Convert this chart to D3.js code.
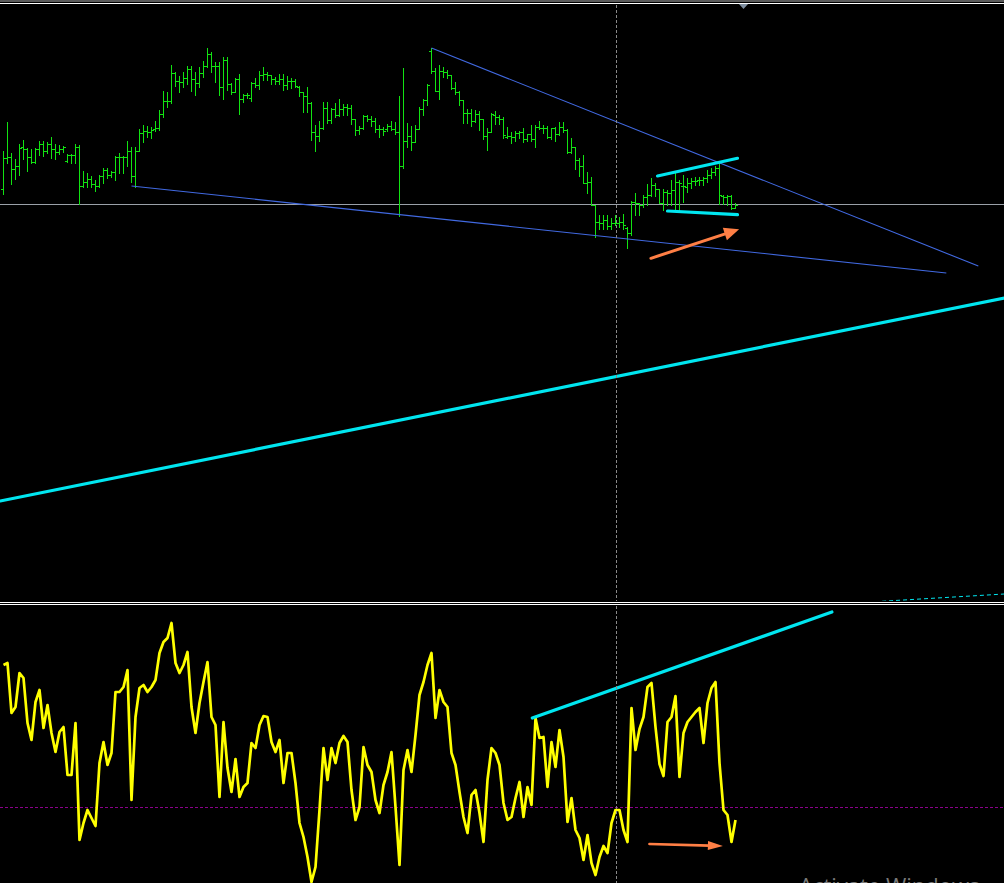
<!DOCTYPE html>
<html><head><meta charset="utf-8">
<script src="https://cdn.jsdelivr.net/npm/d3@7"></script>
<style>html,body{margin:0;padding:0;background:#000;overflow:hidden}svg{display:block}</style>
</head><body><svg id="c" width="1004" height="883"></svg>
<script>
// ---- price bars (points) ----
const opens = [111,142,143,131,134,153,151,143,138,151,156,149,156,151,148,151,139,145,145,153,
114,118,121,116,114,124,130,125,128,143,143,143,149,124,149,167,169,168,171,172,
186,199,199,227,219,218,222,231,221,217,227,234,246,234,234,213,240,216,208,221,
201,205,202,217,215,225,226,225,221,219,221,215,219,219,213,208,204,197,168,164,
172,192,180,191,185,191,193,192,181,170,172,184,181,179,171,171,171,174,171,168,
134,159,164,158,171,191,200,249,229,209,229,228,225,212,208,200,187,187,179,186,
181,164,168,185,183,181,163,164,163,167,168,161,166,161,173,172,172,163,172,166,
173,170,148,153,140,134,117,118,95,78,77,80,74,77,77,78,72,67,98,97,
95,103,105,115,111,97,108,107,110,118,114,113,117,119,120,120,122,125,128,132,
104,103,104,92];
const highs = [149,178,147,141,156,160,152,151,152,159,159,158,163,156,155,154,146,146,156,155,
129,127,124,120,125,132,132,129,144,147,144,159,153,153,171,175,174,173,179,190,
209,208,235,228,224,228,234,234,228,233,239,252,248,238,238,243,243,217,222,226,
206,207,218,222,229,233,228,225,223,226,226,224,222,221,214,208,213,198,175,179,
198,198,192,197,201,196,196,195,181,174,185,185,184,182,175,173,176,179,178,204,
232,177,174,175,193,201,216,252,232,235,233,230,225,218,209,200,191,191,190,189,
181,172,187,189,185,183,173,168,169,169,172,166,175,175,179,175,174,172,173,178,
178,171,162,153,142,145,128,123,95,85,85,85,82,85,83,86,73,99,107,97,
105,116,122,117,111,111,110,120,127,120,125,122,122,123,123,123,130,132,134,138,
105,105,105,97];
const lows = [106,137,116,121,125,141,129,137,137,145,144,147,142,141,146,148,138,137,137,96,
113,113,113,109,113,117,122,123,120,127,127,134,118,113,149,158,163,162,169,170,
183,193,197,214,208,213,216,209,205,213,223,233,228,218,205,201,210,206,208,186,
198,202,199,213,211,220,220,216,216,216,210,211,212,213,204,188,188,160,149,159,
171,177,177,183,184,185,185,176,165,166,171,179,174,168,163,165,169,170,166,84,
132,153,150,158,171,185,195,227,209,201,223,222,211,206,195,177,177,174,178,170,
161,150,168,176,176,162,162,157,159,162,158,159,159,153,171,167,162,161,159,165,
168,147,147,131,124,117,107,95,63,71,71,71,71,75,73,71,52,65,85,85,
93,95,104,104,97,90,95,95,90,90,98,108,112,115,115,115,118,122,125,96,
96,95,91,92];
const closes = [142,143,131,134,152,151,143,138,151,156,149,156,151,148,151,153,145,145,153,114,
118,121,116,114,124,130,125,128,143,143,143,149,124,149,167,169,168,170,172,186,
199,199,227,219,218,222,231,221,217,227,234,246,234,234,213,240,216,208,221,201,
205,205,217,215,225,226,225,221,219,221,215,219,219,214,208,204,197,168,164,172,
192,180,191,185,191,193,192,181,170,172,184,181,179,171,171,169,174,171,168,134,
159,164,158,171,191,200,215,229,209,229,228,225,212,208,200,187,187,179,186,181,
164,168,186,183,181,165,164,163,167,168,161,166,161,173,172,172,163,172,166,173,
170,148,153,140,134,117,118,95,78,77,80,74,77,77,78,75,67,98,97,95,
103,105,115,111,97,108,107,110,118,117,114,117,119,119,120,122,125,128,132,105,
103,104,92,95];

// ---- oscillator ----
const osc = [142,144,94,100,134,129,84,67,105,117,79,102,74,55,75,80,32,32,84,-33,
-16,-3,-11,-19,44,65,42,54,115,115,120,137,7,90,119,122,115,120,127,154,
165,169,184,144,134,142,155,100,74,104,125,145,90,82,10,85,39,15,48,10,
20,24,64,59,82,91,90,65,55,67,24,54,54,24,-16,-30,-50,-75,-60,-3,
59,27,59,44,64,71,65,17,-13,0,60,42,35,7,-6,22,35,55,0,-58,
37,57,35,72,112,125,142,154,89,117,105,100,54,42,15,-10,-26,12,17,-6,
-35,27,59,54,42,4,-13,-10,9,25,-10,20,2,89,69,70,20,65,40,77,
50,-15,9,-23,-31,-53,-28,-56,-68,-50,-39,-46,-16,-3,-3,-23,-35,99,57,78,
90,120,124,80,43,31,85,90,111,30,74,85,90,95,99,64,104,119,125,44,
-3,-8,-35,-13];

// ---- annotations: [barIndex, value] ----
const priceLevel = 96;
const cursorBar = 153;
const oscLevel = 0;
const blueLines = [[[107,252],[243.7,34]], [[32,114],[235.7,27]]];
const cyanLines = [[[-0.825,-201],[250.2,2]], [[163.5,124],[183.5,141.7]], [[166,89],[183.5,85.3]]];
const cyanDashed = [[217.9,-301.7],[250.2,-294]];
const priceArrow = [[161.85,41.7],[183.9,70.7]];
const oscCyanLine = [[132.2,89],[207.1,195]];
const oscArrow = [[161.5,-37],[179.85,-39]];
const watermark = "Activate Windows";

const W = 1004, H = 883;
const svg = d3.select("#c");
svg.append("rect").attr("width",W).attr("height",H).attr("fill","#000");

const x = d3.scaleLinear().domain([0,183]).range([3.5,735.5]);
const yP = d3.scaleLinear().domain([-301,296]).range([601,4]);
const yO = d3.scaleLinear().domain([-76,202]).range([883,605]);

const defs = svg.append("defs");
defs.append("clipPath").attr("id","cp1").append("rect").attr("x",0).attr("y",4).attr("width",W).attr("height",597);
defs.append("clipPath").attr("id","cp2").append("rect").attr("x",0).attr("y",605).attr("width",W).attr("height",278);

// top frame
svg.append("rect").attr("x",0).attr("y",0).attr("width",W).attr("height",2).attr("fill","#5a5a5a");
svg.append("rect").attr("x",0).attr("y",3).attr("width",W).attr("height",1).attr("fill","#ffffff");
svg.append("polygon").attr("points","739,4 748,4 743.5,9").attr("fill","#7f8fa0");

// separator
svg.append("rect").attr("x",0).attr("y",602).attr("width",W).attr("height",1).attr("fill","#ffffff");
svg.append("rect").attr("x",0).attr("y",604).attr("width",W).attr("height",1).attr("fill","#ffffff");

const gP = svg.append("g").attr("clip-path","url(#cp1)");
const gO = svg.append("g").attr("clip-path","url(#cp2)");

// cursor vertical dashed line
[[5,601],[606,883]].forEach(([a,b])=>{
  svg.append("line").attr("x1",Math.round(x(cursorBar))+0.5).attr("x2",Math.round(x(cursorBar))+0.5)
    .attr("y1",a).attr("y2",b).attr("stroke","#8a8a8a").attr("stroke-width",1).attr("stroke-dasharray","3,2");
});

// horizontal price level
gP.append("line").attr("x1",0).attr("x2",W)
  .attr("y1",Math.round(yP(priceLevel))+0.5).attr("y2",Math.round(yP(priceLevel))+0.5)
  .attr("stroke","#9aa0a8").attr("stroke-width",1);

// OHLC bars
const barColor = "#12e212";
const gb = gP.append("g").attr("shape-rendering","crispEdges").attr("fill",barColor);
const R = v => Math.round(yP(v));
opens.forEach((o,i)=>{
  const cx = Math.round(x(i) - 0.5);
  const yh = R(highs[i]), yl = R(lows[i]);
  gb.append("rect").attr("x",cx).attr("y",yh).attr("width",1).attr("height",Math.max(1,yl-yh+1));
  gb.append("rect").attr("x",cx-2).attr("y",R(o)).attr("width",2).attr("height",1);
  gb.append("rect").attr("x",cx+1).attr("y",R(closes[i])).attr("width",2).attr("height",1);
});

const line = d3.line().x(d=>x(d[0])).y(d=>yP(d[1]));
const lineO = d3.line().x(d=>x(d[0])).y(d=>yO(d[1]));

blueLines.forEach(l=>{
  gP.append("path").attr("d",line(l)).attr("stroke","#4169e1").attr("stroke-width",1.1).attr("fill","none");
});
cyanLines.forEach(l=>{
  gP.append("path").attr("d",line(l)).attr("stroke","#00e6f0").attr("stroke-width",3.2).attr("fill","none").attr("stroke-linecap","round");
});
gP.append("path").attr("d",line(cyanDashed)).attr("stroke","#00e6f0").attr("stroke-width",1).attr("fill","none").attr("stroke-dasharray","4,3");

function arrow(g, pts, sx, sy, len, half, w){
  const x1=sx(pts[0][0]), y1=sy(pts[0][1]), x2=sx(pts[1][0]), y2=sy(pts[1][1]);
  const ang=Math.atan2(y2-y1,x2-x1), c=Math.cos(ang), s=Math.sin(ang);
  const bx=x2-len*c, by=y2-len*s;
  g.append("line").attr("x1",x1).attr("y1",y1).attr("x2",bx+2*c).attr("y2",by+2*s)
    .attr("stroke","#ff7f45").attr("stroke-width",w).attr("stroke-linecap","round");
  g.append("polygon").attr("points",[[x2,y2],[bx-half*s,by+half*c],[bx+half*s,by-half*c]].map(p=>p.join(",")).join(" "))
    .attr("fill","#ff7f45");
}
arrow(gP, priceArrow, x, yP, 15, 6.5, 3);

// oscillator
gO.append("line").attr("x1",0).attr("x2",W).attr("y1",Math.round(yO(oscLevel))+0.5).attr("y2",Math.round(yO(oscLevel))+0.5)
  .attr("stroke","#8b008b").attr("stroke-width",1).attr("stroke-dasharray","3,2");
gO.append("path").attr("d",lineO(osc.map((v,i)=>[i,v]))).attr("stroke","#ffff00").attr("stroke-width",2.7)
  .attr("fill","none").attr("stroke-linejoin","round");
gO.append("path").attr("d",lineO(oscCyanLine)).attr("stroke","#00e6f0").attr("stroke-width",3.2).attr("fill","none").attr("stroke-linecap","round");
arrow(gO, oscArrow, x, yO, 15, 4.5, 2.7);

// watermark
svg.append("text").attr("x",799).attr("y",894).attr("fill","#7a7a7a")
  .attr("font-family","'Open Sans', 'DejaVu Sans', sans-serif").attr("font-size",22).text(watermark);
</script>
</body></html>
